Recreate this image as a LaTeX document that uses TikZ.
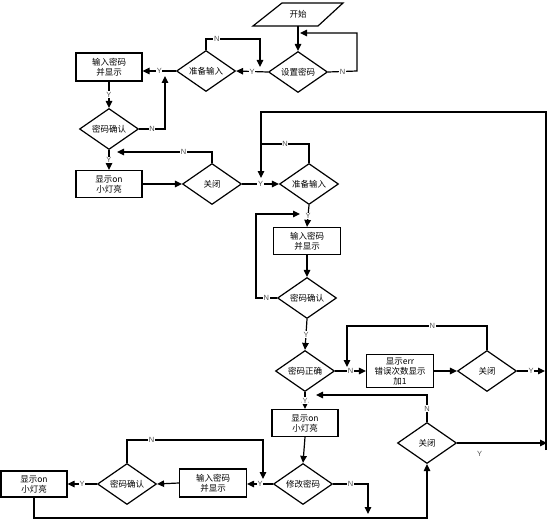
\documentclass[tikz,border=0pt]{standalone}
\usepackage{fontspec}
\newfontfamily\cjk{Noto Sans CJK SC}
\newfontfamily\lab{Liberation Sans}
\usetikzlibrary{shapes.geometric,arrows.meta}
\begin{document}
\begin{tikzpicture}[x=1pt,y=-1pt,
  txt/.style={font=\cjk\fontsize{8.5}{10}\selectfont, align=center},
  box/.style={txt, draw, line width=1.2pt, minimum width=66pt, minimum height=27pt, inner sep=1pt},
  dec/.style={txt, draw, diamond, aspect=1.44, minimum width=59pt, minimum height=41pt, inner sep=0pt, line width=1.2pt},
  ln/.style={line width=1.2pt},
  conn/.style={ln, -{Triangle[length=7pt,width=6.5pt]}},
  lbltxt/.style={text=gray!65!black, font=\lab\fontsize{7.5}{8}\selectfont},
  lbl/.style={lbltxt, fill=white, inner sep=0.7pt}]
\useasboundingbox (0,0) rectangle (554,524);
% start
\draw[ln] (253,26) -- (282,3) -- (343,3) -- (318,26) -- cycle;
\node[txt] (start) at (298,14) {开始};
\coordinate (startb) at (298,26);
% nodes
\node[dec] (d1) at (298,72) {设置密码};
\node[dec] (d2) at (206,71) {准备输入};
\node[box, minimum height=28pt] (b1) at (109,67) {输入密码\\并显示};
\node[dec] (d3) at (109,129) {密码确认};
\node[box] (b2) at (109,184) {显示on\\小灯亮};
\node[dec] (d4) at (212,184) {关闭};
\node[dec] (d5) at (309,184) {准备输入};
\node[box, minimum width=67pt] (b3) at (307,241) {输入密码\\并显示};
\node[dec] (d6) at (307,298) {密码确认};
\node[dec] (d7) at (305,371) {密码正确};
\node[box, minimum width=67pt, minimum height=33pt, inner sep=0pt] (b4) at (400,371) {显示err\\错误次数显示\\加1};
\node[dec] (d8) at (487,371) {关闭};
\node[box] (b5) at (305,423) {显示on\\小灯亮};
\node[dec] (d9) at (427,443) {关闭};
\node[dec] (d10) at (303,484) {修改密码};
\node[box, minimum width=67pt, minimum height=28pt] (b6) at (213,483) {输入密码\\并显示};
\node[dec] (d11) at (127,484) {密码确认};
\node[box, minimum width=66pt, minimum height=26pt] (b7) at (34,484) {显示on\\小灯亮};
% coordinates for free ends
\coordinate (j1) at (300,33);
\coordinate (j2) at (260,67);
\coordinate (j3) at (165,76);
\coordinate (j4) at (117,152);
\coordinate (j5) at (261,178);
\coordinate (j6) at (300,214);
\coordinate (j7) at (347,367);
\coordinate (j8) at (545,371);
\coordinate (j9) at (316,395);
\coordinate (j10) at (547,443);
\coordinate (j11) at (368,514);
\coordinate (j12) at (263,479);
% connectors
\draw[conn] (startb) -- (d1.north);
\draw[conn] (d1.east) -- node[lbl]{N} (357,71) -- (357,33) -- (j1);
\draw[conn] (d1.west) -- node[lbl]{Y} (d2.east);
\draw[conn] (d2.north) -- (206,39) -- node[lbl,pos=0.2]{N} (260,39) -- (j2);
\draw[conn] (d2.west) -- node[lbl]{Y} (d2.west -| b1.east);
\draw[conn] (b1.south) -- node[lbl]{Y} (d3.north);
\draw[conn] (d3.east) -- node[lbl]{N} (165,129) -- (j3);
\draw[conn] (d3.south) -- node[lbl]{Y} (b2.north);
\draw[conn] (b2.east) -- (d4.west);
\draw[conn] (d4.north) -- (212,152) -- node[lbl,pos=0.3]{N} (j4);
\draw[conn] (d4.east) -- node[lbl]{Y} (d5.west);
\draw[ln] (d5.north) -- (309,144) -- node[lbl]{N} (261,144);
\draw[conn] (546,450) -- (546,112) -- (261,112) -- (j5);
\draw[conn] (d5.south) -- node[lbl]{Y} (b3.north);
\draw[conn] (b3.south) -- (d6.north);
\draw[conn] (d6.west) -- node[lbl]{N} (256,298) -- (256,214) -- (j6);
\draw[conn] (d6.south) -- node[lbl]{Y} (d7.north);
\draw[conn] (d7.east) -- node[lbl]{N} (b4.west);
\draw[conn] (b4.east) -- (d8.west);
\draw[conn] (d8.north) -- (487,326) -- node[lbl,pos=0.39]{N} (347,326) -- (j7);
\draw[conn] (d8.east) -- node[lbl]{Y} (j8);
\draw[conn] (d7.south) -- node[lbl]{Y} (b5.north);
\draw[conn] (d9.north) -- node[lbl]{N} (427,395) -- (j9);
\draw[conn] (d9.east) -- node[lbltxt, below=4pt, pos=0.25]{Y} (j10);
\draw[conn] (b5.south) -- (d10.north);
\draw[conn] (d10.west) -- node[lbl]{Y} (d10.west -| b6.east);
\draw[conn] (d10.east) -- node[lbl]{N} (368,484) -- (j11);
\draw[conn] (b6.west) -- (d11.east);
\draw[conn] (d11.north) -- (127,440) -- node[lbl,pos=0.18]{N} (263,440) -- (j12);
\draw[conn] (d11.west) -- node[lbl]{Y} (b7.east);
\draw[conn] (b7.south) -- (34,518) -- (427,518) -- (d9.south);
\end{tikzpicture}
\end{document}
